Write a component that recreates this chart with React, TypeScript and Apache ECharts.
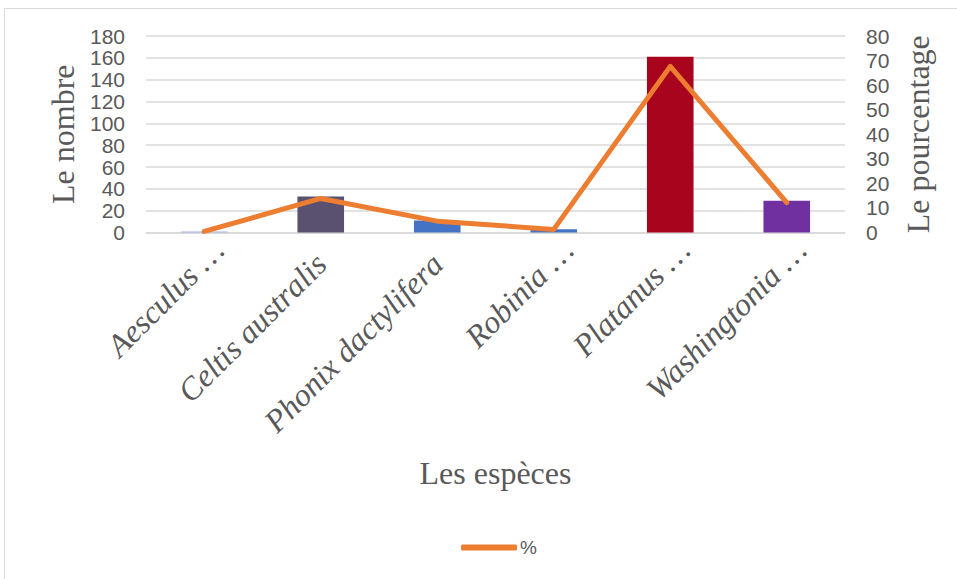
import React, { useEffect, useRef } from "react";
import * as echarts from "echarts";

const categories = [
  "Aesculus …",
  "Celtis australis",
  "Phonix dactylifera",
  "Robinia …",
  "Platanus …",
  "Washingtonia …",
];
const counts = [1, 33, 11, 3, 161, 29];
const percents = [0.42, 13.87, 4.62, 1.26, 67.65, 12.18];
const barColors = ["#9db2df", "#5a5070", "#4472c4", "#4472c4", "#a9041d", "#7030a0"];
const leftTicks = { min: 0, max: 180, interval: 20 };
const rightTicks = { min: 0, max: 80, interval: 10 };

export default function App() {
  const ref = useRef<HTMLDivElement>(null);
  useEffect(() => {
    if (!ref.current) return;
    const chart = echarts.init(ref.current, null, { renderer: "svg" });
    const serif = "'Liberation Serif', 'Times New Roman', serif";
    const sans = "'Liberation Sans', Arial, sans-serif";
    chart.setOption({
      animation: false,
      backgroundColor: "#ffffff",
      graphic: [
        {
          type: "polyline",
          silent: true,
          shape: { points: [[4.5, 600], [4.5, 8.5], [970, 8.5]] },
          style: { stroke: "#d9d9d9", lineWidth: 1, fill: null },
        },
      ],
      grid: { left: 146, right: 112, top: 36, bottom: 346.5, containLabel: false },
      legend: {
        data: [{ name: "%", icon: "roundRect", itemStyle: { color: "#ed7d31" } }],
        left: 456,
        top: 533,
        itemWidth: 56,
        itemHeight: 6,
        itemGap: 4,
        textStyle: { fontFamily: sans, fontSize: 19, color: "#595959", padding: [0, 0, 0, -2] },
      },
      xAxis: {
        type: "category",
        data: categories,
        name: "Les espèces",
        nameLocation: "middle",
        nameGap: 224,
        nameTextStyle: { fontFamily: serif, fontSize: 32, color: "#595959" },
        axisLine: { lineStyle: { color: "#d9d9d9", width: 1.5 } },
        axisTick: { show: false },
        axisLabel: {
          interval: 0,
          rotate: 45,
          margin: -2,
          verticalAlign: "top",
          formatter: (v: string) => (v.endsWith("…") ? `{t|${v}}` : `{f|${v}}`),
          rich: {
            t: {
              fontFamily: serif,
              fontStyle: "italic",
              fontSize: 32,
              color: "#595959",
              lineHeight: 40,
            },
            f: {
              fontFamily: serif,
              fontStyle: "italic",
              fontSize: 32,
              color: "#595959",
              lineHeight: 40,
              padding: [0, 20, 0, 0],
            },
          },
        },
      },
      yAxis: [
        {
          type: "value",
          ...leftTicks,
          name: "Le nombre",
          nameLocation: "middle",
          nameRotate: 90,
          nameGap: 64,
          nameTextStyle: { fontFamily: serif, fontSize: 32, color: "#595959" },
          axisLine: { show: false },
          axisTick: { show: false },
          axisLabel: { fontFamily: sans, fontSize: 21, color: "#595959", margin: 21 },
          splitLine: { lineStyle: { color: "#d9d9d9", width: 1.5 } },
        },
        {
          type: "value",
          ...rightTicks,
          position: "right",
          name: "Le pourcentage",
          nameLocation: "middle",
          nameRotate: 90,
          nameGap: 57,
          nameTextStyle: { fontFamily: serif, fontSize: 32, color: "#595959" },
          axisLine: { show: false },
          axisTick: { show: false },
          axisLabel: { fontFamily: sans, fontSize: 21, color: "#595959", margin: 21 },
          splitLine: { show: false },
        },
      ],
      series: [
        {
          name: "Le nombre",
          type: "bar",
          yAxisIndex: 0,
          barWidth: "40%",
          data: counts.map((v, i) => ({ value: v, itemStyle: { color: barColors[i] } })),
        },
        {
          name: "%",
          type: "line",
          yAxisIndex: 1,
          data: percents,
          symbol: "none",
          lineStyle: { color: "#ed7d31", width: 5, cap: "round", join: "round" },
          itemStyle: { color: "#ed7d31" },
        },
      ],
    });
    return () => chart.dispose();
  }, []);
  return (
    <div
      ref={ref}
      style={{ position: "absolute", left: 0, top: 0, width: 957, height: 579 }}
    />
  );
}
